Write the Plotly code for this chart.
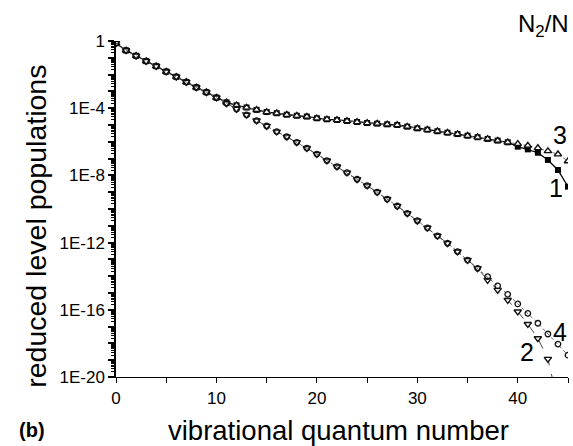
import plotly.graph_objects as go

# vibrational quantum number
v = list(range(0, 46))

# log10 of reduced level populations
common = [-0.13, -0.56, -0.88, -1.20, -1.50, -1.82, -2.13, -2.44, -2.76, -3.05, -3.37]
upper_mid = [-3.65, -3.83, -3.96, -4.10, -4.23, -4.30, -4.39, -4.45, -4.50, -4.60,
             -4.66, -4.70, -4.76, -4.82, -4.88, -4.92, -4.96, -5.00, -5.10, -5.20,
             -5.28, -5.37, -5.46, -5.54, -5.64, -5.73, -5.83, -5.93, -6.03]  # v = 11..39
tail_1 = [-6.29, -6.45, -6.65, -7.08, -7.68, -8.67]   # v = 40..45
tail_3 = [-6.12, -6.23, -6.37, -6.55, -6.74, -7.15]   # v = 40..45
lower_mid = [-3.71, -4.05, -4.40, -4.74, -5.06, -5.40, -5.70, -6.03, -6.38, -6.73,
             -7.12, -7.48, -7.84, -8.23, -8.61, -9.00, -9.41, -9.82, -10.26, -10.70,
             -11.12, -11.60, -12.04, -12.54, -13.04, -13.53]  # v = 11..36
tail_2 = [-14.23, -14.82, -15.42, -16.11, -16.85, -17.70, -18.93, -21.50]  # v = 37..44
tail_4 = [-14.03, -14.57, -15.08, -15.65, -16.21, -16.80, -17.44, -18.04, -18.70]  # v = 37..45

log_n1 = common + upper_mid + tail_1
log_n3 = common + upper_mid + tail_3
log_n2 = common + lower_mid + tail_2
log_n4 = common + lower_mid + tail_4

y_tick_exps = list(range(0, -21, -1))
y_tick_text = ["1" if e == 0 else ("1E%d" % e if e % 4 == 0 else " ") for e in y_tick_exps]
x_tick_vals = list(range(0, 46, 5))
x_tick_text = [str(t) if t % 10 == 0 else " " for t in x_tick_vals]

FONT = "Liberation Sans, Arial, Helvetica, sans-serif"


def pow10(a):
    return [10 ** x for x in a]


fig = go.Figure()
fig.add_trace(go.Scatter(x=v[:len(log_n1)], y=pow10(log_n1), mode="lines+markers",
                         line=dict(color="black", width=1.3),
                         marker=dict(symbol="square", size=6, color="black")))
fig.add_trace(go.Scatter(x=v[:len(log_n3)], y=pow10(log_n3), mode="lines+markers",
                         line=dict(color="#6a6a6a", width=1, dash="dot"),
                         marker=dict(symbol="triangle-up", size=6.5, color="white",
                                     line=dict(width=1.4, color="#111111"))))
fig.add_trace(go.Scatter(x=v[:len(log_n2)], y=pow10(log_n2), mode="lines+markers",
                         line=dict(color="#333333", width=0.9, dash="dash"),
                         marker=dict(symbol="triangle-down", size=6.5, color="white",
                                     line=dict(width=1.4, color="#111111"))))
fig.add_trace(go.Scatter(x=v[:len(log_n4)], y=pow10(log_n4), mode="lines+markers",
                         line=dict(color="#555555", width=0.9, dash="dot"),
                         marker=dict(symbol="circle-open", size=5.5, color="#111111",
                                     line=dict(width=1.3))))

minor_vals = [k * 10 ** e for e in range(-20, 0) for k in range(2, 10)]

fig.update_layout(
    width=573, height=446,
    margin=dict(l=116, r=3, t=41, b=69),
    paper_bgcolor="white", plot_bgcolor="white",
    showlegend=False,
    font=dict(family=FONT, color="black", size=17),
    xaxis=dict(range=[0, 45], showgrid=False, zeroline=False,
               showline=True, linecolor="black", linewidth=1.2,
               tickmode="array", tickvals=x_tick_vals, ticktext=x_tick_text,
               ticks="outside", ticklen=5, tickwidth=1.2, tickcolor="black",
               tickfont=dict(size=17)),
    yaxis=dict(type="log", range=[-20, 0], showgrid=False, zeroline=False,
               showline=True, linecolor="black", linewidth=1.5,
               tickmode="array", tickvals=pow10(y_tick_exps), ticktext=y_tick_text,
               ticks="outside", ticklen=6, tickwidth=1.5, tickcolor="black",
               tickfont=dict(size=17),
               minor=dict(tickmode="array", tickvals=minor_vals, ticks="outside",
                          ticklen=3, tickwidth=1, tickcolor="black")),
)

annotations = [
    dict(text="vibrational quantum number", x=0.493, y=-0.158, xref="paper", yref="paper",
         xanchor="center", yanchor="middle", showarrow=False, font=dict(size=27.5)),
    dict(text="reduced level populations", x=-0.177, y=0.45, xref="paper", yref="paper",
         xanchor="center", yanchor="middle", textangle=-90, showarrow=False,
         font=dict(size=28.5)),
    dict(text="<b>(b)</b>", x=-0.185, y=-0.158, xref="paper", yref="paper",
         xanchor="center", yanchor="middle", showarrow=False, font=dict(size=20)),
    dict(text="N<sub>2</sub>/N", x=0.945, y=1.045, xref="paper", yref="paper",
         xanchor="center", yanchor="middle", showarrow=False, font=dict(size=24)),
    dict(text="3", x=44.2, y=-5.6, xref="x", yref="y", showarrow=False, font=dict(size=25)),
    dict(text="1", x=43.8, y=-8.75, xref="x", yref="y", showarrow=False, font=dict(size=25)),
    dict(text="4", x=44.2, y=-17.3, xref="x", yref="y", showarrow=False, font=dict(size=25)),
    dict(text="2", x=40.9, y=-18.5, xref="x", yref="y", showarrow=False, font=dict(size=25)),
]
fig.update_layout(annotations=annotations)

fig.write_html("out.html", config={"displayModeBar": False},
               post_script="document.body.style.margin='0px';document.body.style.overflow='hidden';")
